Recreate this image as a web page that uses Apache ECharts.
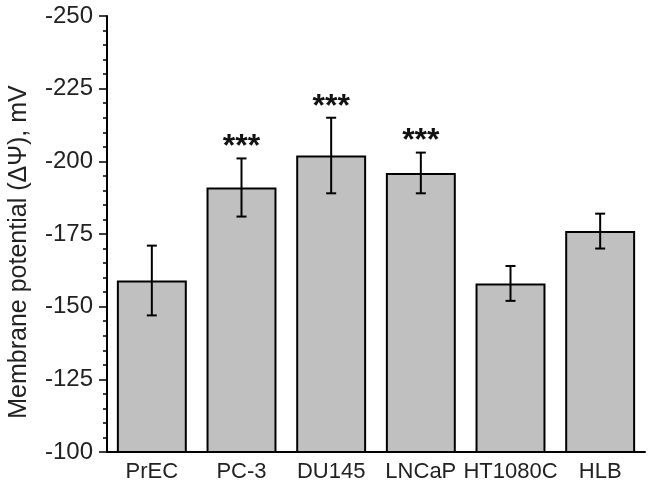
<!DOCTYPE html>
<html>
<head>
<meta charset="utf-8">
<script src="https://cdn.jsdelivr.net/npm/echarts@6/dist/echarts.min.js"></script>
<style>html,body{margin:0;padding:0;background:#fff}#c{width:653px;height:486px}</style>
</head>
<body>
<div id="c"></div>
<script>
const categories = ['PrEC', 'PC-3', 'DU145', 'LNCaP', 'HT1080C', 'HLB'];
const potential = [-159, -191, -202, -196, -158, -176];
const errLow = [-147, -181, -189, -189, -152, -170];
const errHigh = [-171, -201, -215, -203, -164, -182];
const significance = ['', '***', '***', '***', '', ''];
const yTicks = { min: -250, max: -100, interval: 25 };

const FONT = '"Liberation Sans", Arial, sans-serif';
const chart = echarts.init(document.getElementById('c'), null, { renderer: 'canvas' });

const errData = categories.map((c, i) => [i, errLow[i], errHigh[i]]);

chart.setOption({
  animation: false,
  backgroundColor: '#fff',
  grid: { left: 107, right: 8, top: 16, bottom: 34, containLabel: false, outerBoundsMode: 'none' },
  xAxis: {
    type: 'category',
    data: categories,
    axisLine: { show: true, lineStyle: { color: '#000', width: 2 } },
    axisTick: { show: false },
    axisLabel: { color: '#222', fontSize: 22, fontFamily: FONT, margin: 9, interval: 0 },
    splitLine: { show: false }
  },
  yAxis: {
    type: 'value',
    inverse: true,
    min: yTicks.min,
    max: yTicks.max,
    interval: yTicks.interval,
    name: 'Membrane potential (ΔΨ), mV',
    nameLocation: 'middle',
    nameGap: 75,
    nameRotate: 90,
    nameTextStyle: { color: '#222', fontSize: 25, fontFamily: FONT, padding: [0, 36, 0, 0] },
    axisLine: { show: true, lineStyle: { color: '#000', width: 2 } },
    axisTick: { show: true, length: 8, lineStyle: { color: '#000', width: 1.5 } },
    minorTick: { show: true, splitNumber: 5, length: 4, lineStyle: { color: '#000', width: 1.5 } },
    axisLabel: { color: '#222', fontSize: 24, fontFamily: FONT, margin: 14 },
    splitLine: { show: false }
  },
  series: [
    {
      type: 'bar',
      data: potential,
      barWidth: '78%',
      clip: true,
      itemStyle: { color: '#c0c0c0', borderColor: '#000', borderWidth: 2 }
    },
    {
      type: 'custom',
      data: errData,
      z: 5,
      renderItem: function (params, api) {
        const x = api.value(0);
        const lo = api.coord([x, api.value(1)]);
        const hi = api.coord([x, api.value(2)]);
        const cap = 5;
        const style = { stroke: '#000', lineWidth: 2 };
        const children = [
          { type: 'line', shape: { x1: lo[0], y1: lo[1], x2: hi[0], y2: hi[1] }, style },
          { type: 'line', shape: { x1: lo[0] - cap, y1: lo[1], x2: lo[0] + cap, y2: lo[1] }, style },
          { type: 'line', shape: { x1: hi[0] - cap, y1: hi[1], x2: hi[0] + cap, y2: hi[1] }, style }
        ];
        const sig = significance[params.dataIndex];
        if (sig) {
          children.push({
            type: 'text',
            style: {
              text: sig, x: hi[0], y: hi[1] + 5,
              align: 'center', verticalAlign: 'bottom',
              fill: '#111', font: 'bold 32px ' + FONT
            }
          });
        }
        return { type: 'group', children };
      }
    }
  ]
});
</script>
</body>
</html>
